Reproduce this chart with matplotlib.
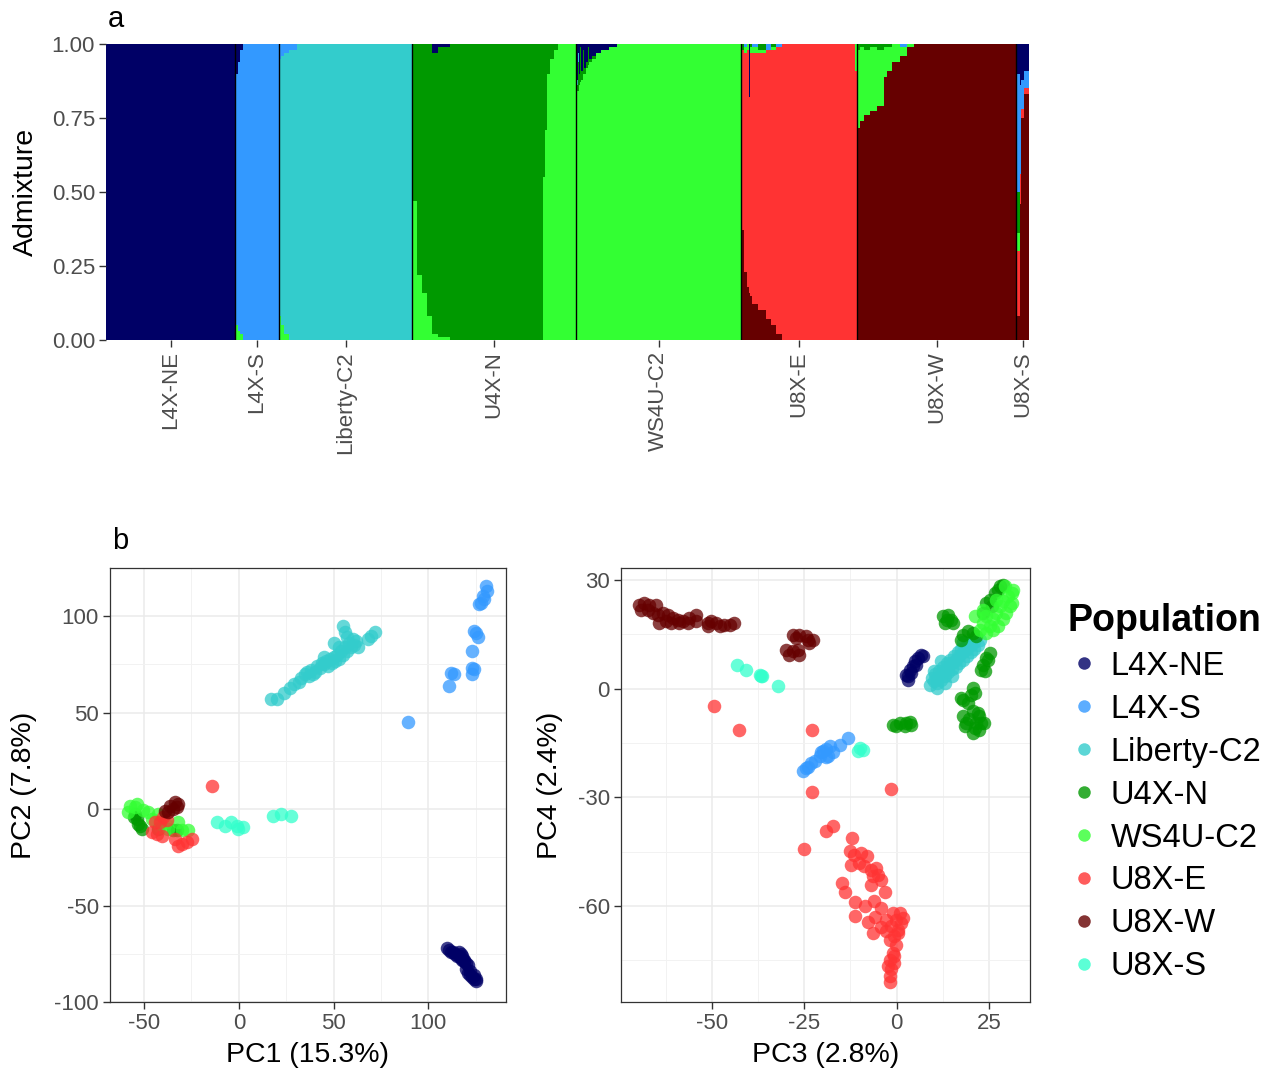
import matplotlib
matplotlib.use('Agg')
import matplotlib.pyplot as plt
import numpy as np
from matplotlib.lines import Line2D
from matplotlib.ticker import MultipleLocator

plt.rcParams['font.family'] = ['Liberation Sans', 'DejaVu Sans']
plt.rcParams['axes.unicode_minus'] = False

# populations / colours
populations = ['L4X-NE', 'L4X-S', 'Liberty-C2', 'U4X-N', 'WS4U-C2', 'U8X-E', 'U8X-W', 'U8X-S']
pop_colors = ['#000066', '#3399FF', '#33CCCC', '#009900', '#33FF33', '#FF3333', '#660000', '#33FFCC']
# ancestry components (K = 7), stacked top -> bottom in this order
comp_colors = pop_colors[:7]

# ---------------------------------------------------------------
# panel a: admixture blocks  (n individuals, [q1..q7])
admix_L4X_NE = [
    (129, [1, 0, 0, 0, 0, 0, 0]),
]
admix_L4X_S = [
    (1, [0.12, 0.68, 0, 0.17, 0.03, 0, 0]),
    (2, [0.10, 0.85, 0, 0, 0.05, 0, 0]),
    (2, [0.06, 0.91, 0, 0, 0.03, 0, 0]),
    (3, [0.02, 0.96, 0, 0, 0.02, 0, 0]),
    (36, [0, 1, 0, 0, 0, 0, 0]),
]
admix_Liberty_C2 = [
    (2, [0, 0.05, 0.87, 0, 0.08, 0, 0]),
    (3, [0, 0.04, 0.91, 0, 0.05, 0, 0]),
    (5, [0, 0.03, 0.95, 0, 0.02, 0, 0]),
    (8, [0, 0.02, 0.98, 0, 0, 0, 0]),
    (115, [0, 0, 1, 0, 0, 0, 0]),
]
admix_U4X_N = [
    (5, [0, 0, 0, 0.53, 0.47, 0, 0]),
    (5, [0, 0, 0, 0.78, 0.22, 0, 0]),
    (5, [0, 0, 0, 0.84, 0.16, 0, 0]),
    (5, [0, 0, 0, 0.92, 0.08, 0, 0]),
    (6, [0.03, 0, 0, 0.95, 0.02, 0, 0]),
    (12, [0.01, 0, 0, 0.98, 0.01, 0, 0]),
    (93, [0, 0, 0, 1, 0, 0, 0]),
    (2, [0, 0, 0, 0.45, 0.55, 0, 0]),
    (2, [0, 0, 0, 0.29, 0.71, 0, 0]),
    (3, [0, 0, 0, 0.10, 0.90, 0, 0]),
    (4, [0, 0, 0, 0.05, 0.95, 0, 0]),
    (4, [0, 0, 0, 0.02, 0.98, 0, 0]),
    (18, [0, 0, 0, 0, 1, 0, 0]),
]
admix_WS4U_C2 = [
    (1, [0.02, 0, 0.04, 0.10, 0.84, 0, 0]),
    (1, [0.12, 0, 0.02, 0.02, 0.84, 0, 0]),
    (1, [0.03, 0, 0.03, 0.10, 0.84, 0, 0]),
    (1, [0.10, 0, 0, 0.04, 0.86, 0, 0]),
    (1, [0.01, 0, 0, 0.12, 0.87, 0, 0]),
    (2, [0.09, 0, 0, 0.03, 0.88, 0, 0]),
    (1, [0.02, 0, 0, 0.08, 0.90, 0, 0]),
    (2, [0.08, 0, 0, 0.02, 0.90, 0, 0]),
    (2, [0.06, 0, 0, 0.02, 0.92, 0, 0]),
    (1, [0.01, 0, 0, 0.06, 0.93, 0, 0]),
    (3, [0.05, 0, 0, 0.01, 0.94, 0, 0]),
    (4, [0.04, 0, 0, 0.01, 0.95, 0, 0]),
    (5, [0.03, 0, 0, 0, 0.97, 0, 0]),
    (8, [0.02, 0, 0, 0, 0.98, 0, 0]),
    (8, [0.01, 0, 0, 0, 0.99, 0, 0]),
    (124, [0, 0, 0, 0, 1, 0, 0]),
]
admix_U8X_E = [
    (1, [0, 0, 0, 0.02, 0.01, 0.60, 0.37]),
    (2, [0, 0, 0, 0.02, 0, 0.61, 0.37]),
    (3, [0, 0.01, 0, 0, 0.02, 0.74, 0.23]),
    (2, [0, 0, 0, 0, 0.02, 0.80, 0.18]),
    (1, [0.18, 0, 0, 0, 0, 0.66, 0.16]),
    (2, [0, 0, 0, 0.01, 0.02, 0.82, 0.15]),
    (6, [0, 0.01, 0, 0, 0.02, 0.85, 0.12]),
    (8, [0, 0, 0, 0.02, 0.01, 0.87, 0.10]),
    (5, [0, 0.02, 0, 0, 0, 0.91, 0.07]),
    (5, [0, 0, 0, 0.01, 0.01, 0.93, 0.05]),
    (6, [0, 0.01, 0, 0, 0, 0.97, 0.02]),
    (73, [0, 0, 0, 0, 0, 1, 0]),
    (2, [0, 0, 0, 0, 0.09, 0.91, 0]),
]
admix_U8X_W = [
    (1, [0, 0, 0, 0.02, 0.27, 0.02, 0.69]),
    (2, [0, 0, 0, 0.02, 0.265, 0, 0.715]),
    (4, [0, 0, 0, 0.01, 0.25, 0, 0.74]),
    (6, [0, 0, 0, 0.02, 0.22, 0, 0.76]),
    (7, [0, 0, 0, 0.01, 0.215, 0, 0.775]),
    (7, [0, 0, 0, 0.02, 0.19, 0, 0.79]),
    (3, [0, 0, 0, 0.01, 0.10, 0, 0.89]),
    (5, [0, 0, 0, 0.01, 0.08, 0, 0.91]),
    (8, [0, 0, 0, 0, 0.06, 0, 0.94]),
    (7, [0, 0.01, 0, 0, 0.03, 0, 0.96]),
    (7, [0, 0, 0, 0, 0.01, 0, 0.99]),
    (102, [0, 0, 0, 0, 0, 0, 1]),
]
admix_U8X_S = [
    (1, [0.12, 0.40, 0, 0.13, 0.06, 0.20, 0.09]),
    (3, [0.10, 0.40, 0, 0.14, 0.06, 0.22, 0.08]),
    (1, [0.14, 0.30, 0, 0, 0, 0.10, 0.46]),
    (3, [0.12, 0.10, 0, 0, 0, 0.03, 0.75]),
    (5, [0.09, 0.06, 0, 0, 0, 0.02, 0.83]),
]

# ---------------------------------------------------------------
# panel b left: PC1 / PC2
pca12_L4X_NE = [(110, -72), (111, -73), (112, -74), (113, -74), (114, -75), (115, -76),
                (116, -76), (117, -77), (118, -78), (118, -76), (119, -79), (120, -80),
                (121, -81), (120, -83), (121, -85), (122, -86), (123, -87), (124, -88),
                (125, -88), (124, -86), (119, -78), (116, -74), (117, -75), (122, -84),
                (125, -89)]
pca12_L4X_S = [(130.4, 115.7), (131.2, 113.1), (128.6, 110.5), (126.8, 106.2), (127.7, 107.1),
               (129.5, 108.8), (124.2, 92.4), (125.1, 91.5), (126.0, 89.4), (123.0, 82.0),
               (123.3, 73.4), (124.2, 72.5), (123.3, 70.0), (111.9, 70.8), (113.7, 70.0),
               (111.0, 63.9), (89.1, 45.4)]
pca12_Liberty_C2 = [(17, 57), (20, 57), (24, 60), (27, 63), (29, 65), (32, 66), (33, 68),
                    (35, 70), (37, 69), (38, 72), (40, 71), (41, 74), (43, 73), (44, 76),
                    (45, 75), (46, 77), (47, 74), (48, 78), (49, 76), (50, 79), (51, 77),
                    (52, 80), (53, 78), (54, 82), (55, 80), (56, 84), (57, 82), (58, 86),
                    (59, 84), (60, 88), (61, 85), (62, 87), (55, 95), (56, 92), (50, 86),
                    (45, 79), (39, 70), (36, 71), (68, 88), (72, 92), (70, 90), (63, 84),
                    (57, 89), (53, 84)]
pca12_U4X_N = [(-54.8, -2.6), (-53.1, -7.8), (-51.3, -10.4), (-54.0, -5.2), (-32.8, -11.0),
               (-34.6, -11.0), (-42.5, -10.4), (-52.0, -9.0), (-55.5, -4.0)]
pca12_WS4U_C2 = [(-57.4, 1.7), (-53.9, 2.6), (-58.3, -1.5), (-50.4, -0.7), (-47.7, -1.5),
                 (-42.5, -2.4), (-39.0, -6.7), (-37.3, -10.1), (-32.0, -6.7), (-30.2, -11.0),
                 (-26.7, -11.0), (-41.6, -9.3), (-46.0, -5.2), (-54.8, 0.9)]
pca12_U8X_E = [(-14.4, 12.1), (-44.2, -6.7), (-39.9, -4.1), (-43.4, -12.9), (-40.8, -13.8),
               (-33.7, -15.5), (-30.2, -18.1), (-27.5, -17.3), (-24.9, -15.5), (-31.9, -19.0),
               (-46.0, -12.1), (-41.6, -6.7), (-38.1, -5.9)]
pca12_U8X_W = [(-39.0, -0.9), (-36.3, 1.7), (-33.7, 3.5), (-32.0, 2.6), (-34.6, 0.0),
               (-37.3, -1.7), (-32.8, 0.9)]
pca12_U8X_S = [(-11.7, -6.9), (-7.4, -8.6), (-3.9, -6.9), (-1.2, -8.6), (2.3, -9.5),
               (-0.4, -10.1), (18.1, -3.8), (22.5, -2.6), (27.7, -3.8)]

# panel b right: PC3 / PC4
pca34_L4X_NE = [(3.1, 2.5), (2.6, 3.9), (3.5, 5.2), (4.4, 6.2), (4.9, 7.5), (5.8, 8.5),
                (6.7, 9.4), (7.1, 8.9), (4.0, 4.3), (5.3, 6.6), (3.1, 3.4)]
pca34_L4X_S = [(-25.4, -22.8), (-24.0, -21.5), (-23.1, -20.6), (-22.2, -20.1), (-24.5, -21.9),
               (-20.4, -17.6), (-19.0, -16.8), (-18.1, -15.9), (-19.9, -17.2), (-17.3, -17.6),
               (-18.6, -18.5), (-15.4, -15.5), (-13.2, -13.6), (-19.0, -19.0), (-20.8, -18.5)]
pca34_Liberty_C2 = [(9, 1), (9.5, 3), (10, 2), (10.5, 4), (11, 1.5), (11, 3), (11.5, 5),
                    (12, 2.5), (12, 4), (12.5, 6), (13, 3.5), (13, 5), (13.5, 7), (14, 4.5),
                    (14, 6), (14.5, 8), (15, 5.5), (15, 7), (15.5, 9), (16, 6), (16, 8),
                    (16.5, 10), (17, 7), (17, 9), (17.5, 11), (18, 8), (18, 10), (18.5, 11.5),
                    (19, 9), (19, 11), (19.5, 12.5), (20, 10), (20, 12), (21, 11), (21, 13),
                    (22, 12), (22.5, 13.5), (13, 1.5), (15, 3.5), (10, 5), (12, 7.5),
                    (18, 13), (10.8, 0.3)]
pca34_U4X_N = [(27.9, 28.2), (26.5, 26.4), (25.2, 24.6), (24.3, 23.7), (25.7, 22.7), (23.4, 20.9),
               (28.8, 28.7), (27.4, 27.3),
               (12.5, 20.0), (13.9, 20.4), (14.8, 19.0), (13.0, 18.1), (15.3, 18.1), (13.5, 19.0),
               (18.0, 14.9), (19.3, 15.8), (20.7, 15.4), (21.6, 14.4), (17.5, 13.5),
               (25.2, 9.9), (24.3, 8.5), (23.4, 6.6), (22.9, 5.2), (23.8, 4.8), (24.7, 8.0),
               (20.7, 0.2), (20.2, -1.7), (18.0, -3.0), (19.3, -3.9), (17.5, -2.6), (21.1, -1.2),
               (18.0, -7.6), (20.6, -6.2), (22.4, -7.6), (23.7, -9.4), (22.4, -11.3),
               (20.6, -12.2), (18.4, -10.3), (19.7, -8.5), (21.5, -9.4), (21.1, -10.8),
               (18.9, -9.4), (22.8, -9.4), (21.9, -6.7),
               (-1.0, -9.9), (0.8, -9.5), (2.6, -9.5), (4.0, -9.9), (-0.1, -10.4),
               (2.2, -10.4), (3.5, -9.3)]
pca34_WS4U_C2 = [(21.1, 20.0), (22.5, 16.3), (24.3, 15.3), (25.2, 17.2), (26.1, 19.1),
                 (27.0, 20.9), (27.9, 22.7), (28.8, 24.1), (30.2, 25.5), (31.1, 26.4),
                 (31.5, 27.3), (30.6, 22.7), (29.7, 20.9), (28.8, 19.1), (27.4, 17.2),
                 (23.4, 18.1), (24.3, 20.0), (27.0, 24.6), (29.3, 28.3), (31.1, 23.6),
                 (26.1, 16.3), (23.4, 21.8)]
pca34_U8X_E = [(-49.3, -4.7), (-42.7, -11.5), (-22.8, -11.5), (-22.8, -28.5), (-1.6, -27.7),
               (-25.2, -44.2), (-19.0, -39.2), (-17.2, -38.0), (-12.0, -41.2),
               (-12.6, -44.7), (-11.5, -45.8), (-9.7, -45.4), (-7.9, -46.3), (-12.4, -48.6),
               (-10.2, -48.1), (-8.8, -49.0), (-7.0, -50.0), (-5.6, -49.5), (-5.1, -51.4),
               (-6.5, -51.8), (-4.2, -52.7), (-7.0, -54.1), (-14.7, -53.6), (-13.9, -56.2),
               (-3.2, -56.2), (-11.2, -58.9), (-8.5, -60.1), (-6.2, -58.7), (-4.2, -60.5),
               (-11.3, -62.7), (-7.7, -64.5), (-5.9, -62.9), (-6.5, -67.4), (-4.2, -65.9),
               (-2.8, -67.0),
               (-1.0, -61.9), (0.8, -61.9), (-0.1, -63.8), (1.7, -63.3), (-1.5, -65.6),
               (0.3, -66.5), (-0.6, -68.4), (-1.9, -69.3), (-0.1, -70.7), (-1.0, -73.0),
               (-1.9, -74.8), (-0.6, -75.7), (-1.5, -77.5), (-1.9, -79.3), (-1.9, -81.0),
               (-0.8, -73.9), (-2.3, -76.6), (0.3, -67.4), (-2.8, -63.8), (1.3, -64.7)]
pca34_U8X_W = [(-69.6, 23.2), (-68.3, 23.6), (-66.9, 23.2), (-65.1, 23.2), (-69.2, 21.8),
               (-67.4, 21.8), (-66.0, 20.9), (-64.7, 20.4), (-63.3, 20.9), (-62.0, 20.4),
               (-60.6, 19.5), (-59.2, 19.0), (-57.9, 18.6), (-56.5, 18.1), (-54.3, 20.4),
               (-54.3, 18.6), (-56.1, 19.5), (-64.2, 18.1), (-62.4, 18.6), (-61.0, 18.1),
               (-58.8, 18.1), (-51.1, 18.1), (-50.2, 18.6), (-48.8, 18.1), (-47.9, 17.2),
               (-46.6, 17.7), (-45.2, 17.7), (-43.9, 18.1), (-51.1, 17.2),
               (-28.1, 14.9), (-26.3, 14.9), (-24.5, 14.4), (-22.7, 13.5), (-27.2, 13.9),
               (-23.6, 12.6), (-29.9, 10.7), (-28.1, 10.3), (-26.3, 9.4), (-29.0, 9.4),
               (-26.8, 10.7), (-24.1, 13.5)]
pca34_U8X_S = [(-43.2, 6.6), (-40.7, 5.1), (-37.1, 3.9), (-36.4, 3.4), (-32.2, 0.6),
               (-10.0, -16.4), (-9.1, -17.0), (-10.5, -17.3), (-36.8, 3.6)]

admix_blocks = [admix_L4X_NE, admix_L4X_S, admix_Liberty_C2, admix_U4X_N,
                admix_WS4U_C2, admix_U8X_E, admix_U8X_W, admix_U8X_S]
pca12 = [pca12_L4X_NE, pca12_L4X_S, pca12_Liberty_C2, pca12_U4X_N,
         pca12_WS4U_C2, pca12_U8X_E, pca12_U8X_W, pca12_U8X_S]
pca34 = [pca34_L4X_NE, pca34_L4X_S, pca34_Liberty_C2, pca34_U4X_N,
         pca34_WS4U_C2, pca34_U8X_E, pca34_U8X_W, pca34_U8X_S]

#########################################################################
W, H = 1272, 1077
fig = plt.figure(figsize=(W / 100, H / 100), dpi=100)


def px_axes(left, top, right, bottom):
    """Axes placed by pixel box of the reference picture."""
    return fig.add_axes([left / W, 1 - bottom / H, (right - left) / W, (bottom - top) / H])


TICK_GREY = '#4D4D4D'
LINE_GREY = '#333333'

# ---------------- panel a -----------------------------------------------
ax_a = px_axes(106, 44, 1029, 340)

q = np.vstack([np.tile(np.array(v, float), (n, 1)) for blocks in admix_blocks for n, v in blocks])
q = q / q.sum(axis=1, keepdims=True)
counts = [sum(n for n, _ in blocks) for blocks in admix_blocks]
edges = np.concatenate([[0], np.cumsum(counts)])
xpos = np.arange(len(q))

for k in range(q.shape[1]):
    bottom = q[:, k + 1:].sum(axis=1)
    ax_a.bar(xpos, q[:, k], bottom=bottom, width=1.0, align='edge',
             color=comp_colors[k], linewidth=0, antialiased=False)

for e in edges[1:-1]:
    ax_a.axvline(e, color='black', lw=1.0)

ax_a.set_xlim(0, edges[-1])
ax_a.set_ylim(0, 1)
for s in ax_a.spines.values():
    s.set_visible(False)
ax_a.set_yticks([0, 0.25, 0.5, 0.75, 1.0])
ax_a.set_yticklabels(['0.00', '0.25', '0.50', '0.75', '1.00'])
ax_a.set_xticks((edges[:-1] + edges[1:]) / 2)
ax_a.set_xticklabels(populations, rotation=90, va='top', ha='center')
ax_a.tick_params(axis='both', length=5, width=1, color=LINE_GREY, labelcolor=TICK_GREY,
                 labelsize=16, pad=3)
ax_a.set_ylabel('Admixture', fontsize=20.5)
ax_a.yaxis.set_label_coords(-0.073, 0.5)
fig.text(108 / W, 1 - 27 / H, 'a', fontsize=21, ha='left', va='baseline')

# ---------------- panel b -----------------------------------------------


def pca_axes(ax, data, xlim, ylim, xmaj, ymaj, xlabel, ylabel, ylab_x):
    for pts, c in zip(data, pop_colors):
        arr = np.array(pts)
        ax.scatter(arr[:, 0], arr[:, 1], s=95, color=c, alpha=0.75, linewidths=0, zorder=3)
    ax.set_xlim(*xlim)
    ax.set_ylim(*ylim)
    ax.xaxis.set_major_locator(MultipleLocator(xmaj))
    ax.yaxis.set_major_locator(MultipleLocator(ymaj))
    ax.xaxis.set_minor_locator(MultipleLocator(xmaj / 2))
    ax.yaxis.set_minor_locator(MultipleLocator(ymaj / 2))
    ax.grid(which='major', color='#EBEBEB', lw=1.1, zorder=0)
    ax.grid(which='minor', color='#F2F2F2', lw=0.7, zorder=0)
    ax.set_axisbelow(True)
    for s in ax.spines.values():
        s.set_color(LINE_GREY)
        s.set_linewidth(0.9)
    ax.tick_params(which='major', length=5, width=1, color=LINE_GREY, labelcolor=TICK_GREY,
                   labelsize=16, pad=3)
    ax.tick_params(which='minor', length=0)
    ax.set_xlabel(xlabel, fontsize=20.5)
    ax.set_ylabel(ylabel, fontsize=20.5)
    ax.xaxis.set_label_coords(0.5, -0.092)
    ax.yaxis.set_label_coords(ylab_x, 0.5)


ax_b1 = px_axes(110, 568, 506, 1002)
pca_axes(ax_b1, pca12, (-68, 141), (-100, 125), 50, 50, 'PC1 (15.3%)', 'PC2 (7.8%)', -0.185)

ax_b2 = px_axes(621, 568, 1030, 1002)
pca_axes(ax_b2, pca34, (-74.6, 36.1), (-86.5, 33.3), 25, 30, 'PC3 (2.8%)', 'PC4 (2.4%)', -0.142)

fig.text(112 / W, 1 - 549 / H, 'b', fontsize=21, ha='left', va='baseline')

handles = [Line2D([0], [0], marker='o', linestyle='', markersize=9, markerfacecolor=c,
                  markeredgewidth=0, alpha=0.8) for c in pop_colors]
leg = fig.legend(handles, populations, title='Population', loc='upper left',
                 bbox_to_anchor=(1068 / W, 1 - 603 / H), frameon=False, fontsize=23.5,
                 title_fontproperties={'size': 27, 'weight': 'bold'}, alignment='left',
                 labelspacing=0.365, handletextpad=0.3, handlelength=1.0,
                 borderpad=0, borderaxespad=0)

fig.savefig('out.png', dpi=100)
